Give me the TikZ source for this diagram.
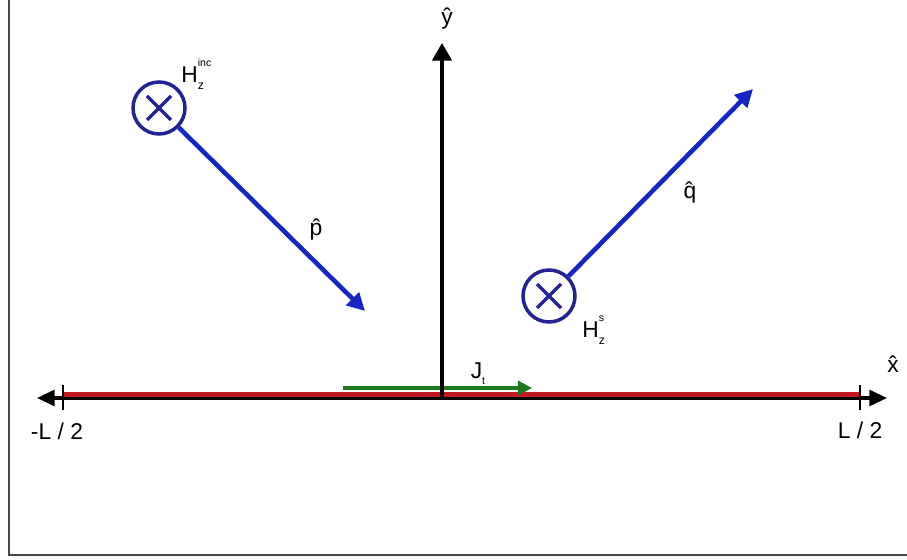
\documentclass[tikz,border=0pt]{standalone}
\usepackage{fontspec}
\setmainfont{Liberation Sans}
\usepackage{tikz}
\usetikzlibrary{arrows.meta,calc}
\definecolor{VecBlue}{RGB}{22,38,195}
\definecolor{RingBlue}{RGB}{35,35,150}
\definecolor{StripRed}{RGB}{195,25,35}
\definecolor{CurGreen}{RGB}{30,120,30}
\definecolor{FrameGray}{RGB}{70,70,70}
\newcommand{\fieldlbl}[2]{H\rlap{\raisebox{1.3ex}{\fontsize{6}{6}\selectfont #2}}\raisebox{-0.6ex}{\fontsize{7}{7}\selectfont #1}}

\begin{document}
\begin{tikzpicture}[x=0.02cm,y=-0.02cm,
  lbl/.style={font=\fontsize{13}{15}\selectfont,inner sep=0pt},
  ring/.style={circle,draw=RingBlue,line width=2pt,minimum size=1.04cm,inner sep=0pt},
  vec/.style={-{Triangle[length=10pt,width=10pt]},draw=VecBlue,line width=2.6pt},
  axis/.style={line width=1.8pt,black},
]
\useasboundingbox (0,0) rectangle (907,560);
\draw[FrameGray,line width=1.2pt] (9,0) -- (9,555) -- (907,555);
% axes
\coordinate (o) at (442,398);
\coordinate (xl) at (37,398);
\coordinate (xr) at (887,398);
\coordinate (yt) at (442,43);
\coordinate (tl) at (63,397);
\coordinate (tr) at (860,397);
\draw[axis,{Triangle[length=10pt,width=9pt]}-{Triangle[length=10pt,width=9pt]}] (xl) -- (xr);
\draw[StripRed,line width=3.2pt] ($(tl)+(0,-2.5)$) -- ($(tr)+(0,-2.5)$);
\draw[axis,line width=1.3pt] ($(tl)+(0,-12)$) -- ($(tl)+(0,13)$);
\draw[axis,line width=1.3pt] ($(tr)+(0,-12)$) -- ($(tr)+(0,13)$);
\node[lbl] (lmin) at (57,431) {-L / 2};
\node[lbl] (lmax) at (860,430) {L / 2};
\node[lbl] (xhat) at (893,364) {\^{x}};
% current
\coordinate (js) at (343,388);
\coordinate (je) at (532,388);
\draw[CurGreen,line width=2.6pt,-{Triangle[length=8pt,width=8pt]}] (js) -- (je);
\node[lbl] (jt) at (478,374) {J\raisebox{-0.5ex}{\fontsize{6}{6}\selectfont t}};
\draw[axis,line width=2pt,-{Triangle[length=10pt,width=11pt]}] (o) -- (yt);
\node[lbl] (yhat) at (447,19) {\^{y}};
% fields
\node[ring] (hinc) at (159,108) {};
\draw[RingBlue,line width=2pt] ($(hinc)+(-12,-12)$) -- ($(hinc)+(12,12)$);
\draw[RingBlue,line width=2pt] ($(hinc)+(-12,12)$) -- ($(hinc)+(12,-12)$);
\node[lbl,anchor=west] (hinclbl) at (181,74) {\fieldlbl{z}{inc}};
\coordinate (pend) at (365,311);
\draw[vec] (hinc) -- (pend);
\node[lbl] (phat) at (316,230) {\^{p}};
\node[ring] (hsc) at (549,296) {};
\draw[RingBlue,line width=2pt] ($(hsc)+(-12,-12)$) -- ($(hsc)+(12,12)$);
\draw[RingBlue,line width=2pt] ($(hsc)+(-12,12)$) -- ($(hsc)+(12,-12)$);
\node[lbl,anchor=west] (hsclbl) at (582,330) {\fieldlbl{z}{s}};
\coordinate (qend) at (753,89);
\draw[vec] (hsc) -- (qend);
\node[lbl] (qhat) at (690,193) {\^{q}};
\end{tikzpicture}
\end{document}
